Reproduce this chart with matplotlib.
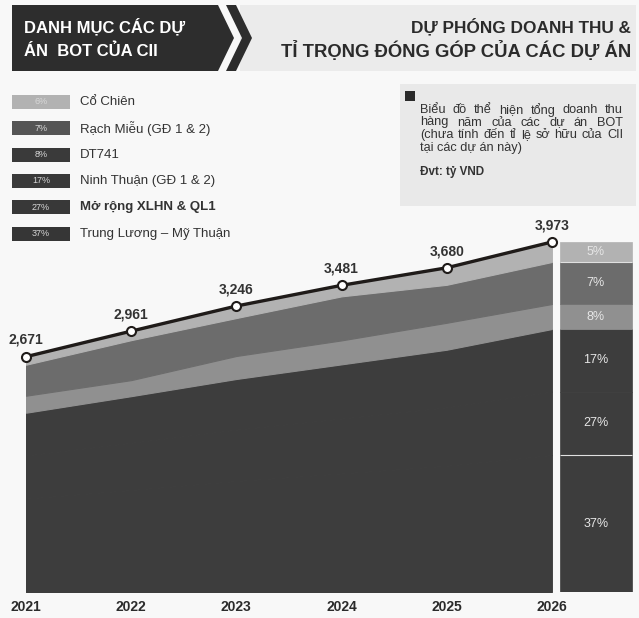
import matplotlib
matplotlib.use('Agg')
import matplotlib.pyplot as plt
from matplotlib.patches import Polygon, Rectangle

years = [2021, 2022, 2023, 2024, 2025, 2026]
totals = [2671, 2961, 3246, 3481, 3680, 3973]

# revenue by project (ty VND), bottom to top of the stack
projects = ['Trung Lương – Mỹ Thuận', 'Mở rộng XLHN & QL1', 'Ninh Thuận (GĐ 1 & 2)',
            'DT741', 'Rạch Miễu (GĐ 1 & 2)', 'Cổ Chiên']
trung_luong = [1060, 1158, 1260, 1346, 1433, 1555]
mo_rong = [490, 536, 583, 623, 663, 720]
ninh_thuan = [485, 529, 575, 615, 654, 710]
dt741 = [193, 182, 261, 272, 306, 284]
rach_mieu = [352, 454, 431, 500, 431, 477]
co_chien = [91, 102, 136, 125, 193, 227]

legend_share = ['6%', '7%', '8%', '17%', '27%', '37%']   # top to bottom
bar_share = ['37%', '27%', '17%', '8%', '7%', '5%']      # bottom to top

area_colors = ['#3d3d3d', '#3d3d3d', '#3d3d3d', '#909090', '#6c6c6c', '#b2b2b2']
swatch_colors = ['#b2b2b2', '#555555', '#3a3a3a', '#3a3a3a', '#383838', '#363636']

W, H = 639, 618
NARROW = ['Liberation Sans Narrow', 'Liberation Sans']


def fx(x):
    return x / W


def justify(ax, renderer, words, x0, x1, y, **kw):
    # place words so the line fills x0..x1 (pixel coords of ax)
    texts = [ax.text(0, y, w, ha='left', va='center', **kw) for w in words]
    inv = ax.transData.inverted()
    widths = []
    for t in texts:
        bb = t.get_window_extent(renderer)
        a = inv.transform((bb.x0, 0))[0]
        b = inv.transform((bb.x1, 0))[0]
        widths.append(abs(b - a))
    gap = (x1 - x0 - sum(widths)) / (len(words) - 1)
    x = x0
    for t, w in zip(texts, widths):
        t.set_x(x)
        x += w + gap


def main():
    plt.rcParams['font.family'] = ['Liberation Sans', 'DejaVu Sans']
    fig = plt.figure(figsize=(W / 100, H / 100), dpi=100)
    fig.patch.set_facecolor('#f8f8f8')
    renderer = fig.canvas.get_renderer()

    # ---- header
    hdr = fig.add_axes([0, 0, 1, 1], zorder=0)
    hdr.set_xlim(0, W)
    hdr.set_ylim(H, 0)
    hdr.axis('off')
    hdr.add_patch(Rectangle((240, 5), 396, 66, color='#ebebeb', lw=0))
    hdr.add_patch(Polygon([(12, 5), (218, 5), (234, 38), (218, 71), (12, 71)],
                          closed=True, color='#2d2d2d', lw=0))
    hdr.add_patch(Polygon([(226, 5), (236, 5), (252, 38), (236, 71), (226, 71), (242, 38)],
                          closed=True, color='#2d2d2d', lw=0))
    hdr.text(24, 27, 'DANH MỤC CÁC DỰ', color='white', fontsize=12, fontweight='bold',
             va='center', ha='left')
    hdr.text(24, 51, 'ÁN  BOT CỦA CII', color='white', fontsize=12, fontweight='bold',
             va='center', ha='left')
    hdr.text(631, 27, 'DỰ PHÓNG DOANH THU &', color='#2b2b2b', fontsize=12.4,
             fontweight='bold', va='center', ha='right')
    hdr.text(631, 51, 'TỈ TRỌNG ĐÓNG GÓP CỦA CÁC DỰ ÁN', color='#2b2b2b', fontsize=13.3,
             fontweight='bold', va='center', ha='right')

    # ---- legend (top to bottom)
    names_top = projects[::-1]
    for i, name in enumerate(names_top):
        yc = 102 + i * 26.3
        hdr.add_patch(Rectangle((12, yc - 7), 58, 14, color=swatch_colors[i], lw=0))
        hdr.text(41, yc, legend_share[i], color='#d8d8d8', fontsize=6.5, family=NARROW,
                 ha='center', va='center')
        hdr.text(80, yc, name, color='#333333', fontsize=9.5, ha='left', va='center',
                 fontweight='bold' if i == 4 else 'normal')

    # ---- note box
    hdr.add_patch(Rectangle((400, 84), 236, 122, color='#e9e9e9', lw=0))
    hdr.add_patch(Rectangle((405, 91), 10, 10, color='#2a2a2a', lw=0))
    note = ['Biểu đồ thể hiện tổng doanh thu', 'hàng năm của các dự án BOT',
            '(chưa tính đến tỉ lệ sở hữu của CII', 'tại các dự án này)']
    for i, line in enumerate(note):
        y = 110 + i * 12.5
        if i < len(note) - 1:
            justify(hdr, renderer, line.split(), 420, 623, y, color='#333333',
                    fontsize=9.2, family=NARROW)
        else:
            hdr.text(420, y, line, color='#333333', fontsize=9.2, family=NARROW,
                     ha='left', va='center')
    hdr.text(420, 172, 'Đvt: tỷ VND', color='#333333', fontsize=8.4, fontweight='bold',
             family=NARROW, ha='left', va='center')

    # ---- chart
    ax = fig.add_axes([fx(26), 26 / H, 610 / W, 396 / H], zorder=2)
    ax.patch.set_alpha(0)
    stack = [trung_luong, mo_rong, ninh_thuan, dt741, rach_mieu, co_chien]
    polys = ax.stackplot(years, *stack, colors=area_colors)
    for p, c in zip(polys, area_colors):
        p.set_edgecolor(c)
        p.set_linewidth(0.8)

    # 2026 share bar
    bottom = 0
    bounds = []
    for vals, col, lab in zip(stack, area_colors, bar_share):
        v = vals[-1]
        ax.bar(2026.418, v, bottom=bottom, width=0.684, color=col,
               edgecolor=col, lw=0.5)
        ax.text(2026.418, bottom + v / 2, lab, color='#e6e6e6', fontsize=9,
                family=NARROW, ha='center', va='center')
        bottom += v
        bounds.append(bottom)
    # thin light separators 37%|27% and 7%|5%
    ax.hlines([bounds[0], bounds[4]], 2026.076, 2026.76, color='#e0e0e0', lw=0.8)

    ax.plot(years, totals, color='#1f1b19', lw=2.4, marker='o', ms=6.5,
            mfc='white', mec='#1f1b19', mew=1.5, zorder=5, clip_on=False)
    for x, t in zip(years, totals):
        ax.annotate(f'{t:,}', (x, t), xytext=(0, 7), textcoords='offset points',
                    ha='center', va='bottom', fontsize=10, fontweight='bold',
                    family=NARROW, color='#333333')

    ax.set_xlim(2021, 2026.8)
    ax.set_ylim(0, 4495)
    ax.set_xticks(years)
    ax.set_xticklabels([str(y) for y in years], fontsize=10, fontweight='bold',
                       family=NARROW, color='#2b2b2b')
    ax.tick_params(axis='x', length=0, pad=6)
    ax.set_yticks([])
    for s in ax.spines.values():
        s.set_visible(False)

    fig.savefig('out.png', dpi=100, facecolor=fig.get_facecolor())


if __name__ == '__main__':
    main()
